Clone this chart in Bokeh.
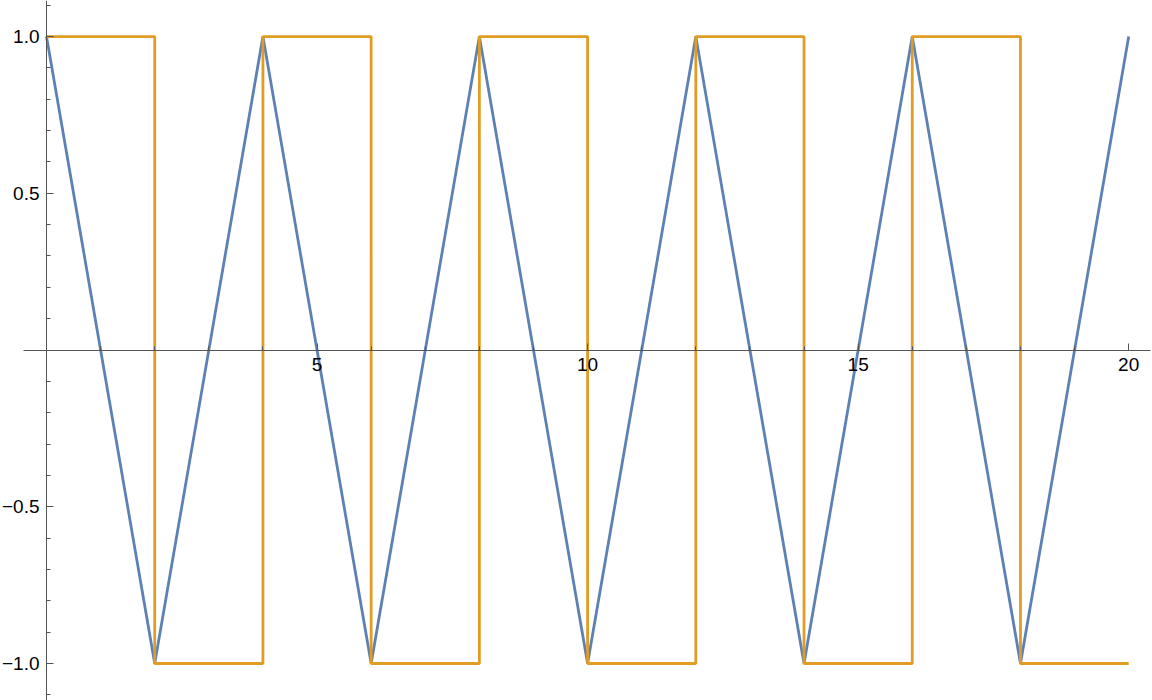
from bokeh.plotting import figure
from bokeh.models import LinearAxis, FixedTicker, Range1d, CustomJSTickFormatter
from bokeh.embed import file_html
from bokeh.resources import INLINE

# Data
tri_x = [0, 2, 4, 6, 8, 10, 12, 14, 16, 18, 20]
tri_y = [1, -1, 1, -1, 1, -1, 1, -1, 1, -1, 1]
sq_x = [0, 2, 4, 6, 8, 10, 12, 14, 16, 18, 20]
sq_y = [1, -1, 1, -1, 1, -1, 1, -1, 1, -1, -1]

x_major = [5, 10, 15, 20]
x_minor = list(range(1, 21))
y_major = [-1.0, -0.5, 0.5, 1.0]
y_minor = [round(-1.1 + 0.1 * i, 2) for i in range(23)]

BLUE = "#5E81B5"
ORANGE = "#E19C24"
AXIS = "#555555"
FONT = "Liberation Sans"

p = figure(width=1152, height=700, output_backend="svg", toolbar_location=None,
           x_axis_type=None, y_axis_type=None,
           x_range=Range1d(-0.850, 20.44), y_range=Range1d(-1.118, 1.115),
           min_border=0, min_border_left=0, min_border_right=0,
           min_border_top=0, min_border_bottom=0)
p.outline_line_color = None
p.xgrid.visible = False
p.ygrid.visible = False
p.background_fill_color = "white"

xa = LinearAxis(fixed_location=0, ticker=FixedTicker(ticks=x_major, minor_ticks=x_minor))
xa.bounds = (-0.425, 20.4)
xa.axis_line_color = AXIS
xa.major_tick_line_color = AXIS
xa.minor_tick_line_color = AXIS
xa.major_tick_in = 7
xa.major_tick_out = 0
xa.minor_tick_in = 4
xa.minor_tick_out = 0
xa.major_label_standoff = 8
xa.major_label_text_font = FONT
xa.major_label_text_font_size = "19px"
xa.major_label_text_color = "black"
p.add_layout(xa, "below")

ya = LinearAxis(fixed_location=0, ticker=FixedTicker(ticks=y_major, minor_ticks=y_minor))
ya.formatter = CustomJSTickFormatter(code="return tick.toFixed(1).replace('-', '\u2212');")
ya.axis_line_color = AXIS
ya.major_tick_line_color = AXIS
ya.minor_tick_line_color = AXIS
ya.major_tick_in = 7
ya.major_tick_out = 0
ya.minor_tick_in = 4
ya.minor_tick_out = 0
ya.major_label_standoff = 7
ya.major_label_text_font = FONT
ya.major_label_text_font_size = "19px"
ya.major_label_text_color = "black"
p.add_layout(ya, "left")

p.line(tri_x, tri_y, line_color=BLUE, line_width=2.8)
p.step(sq_x, sq_y, mode="after", line_color=ORANGE, line_width=2.8)

open("out.html", "w").write(file_html(p, INLINE))
